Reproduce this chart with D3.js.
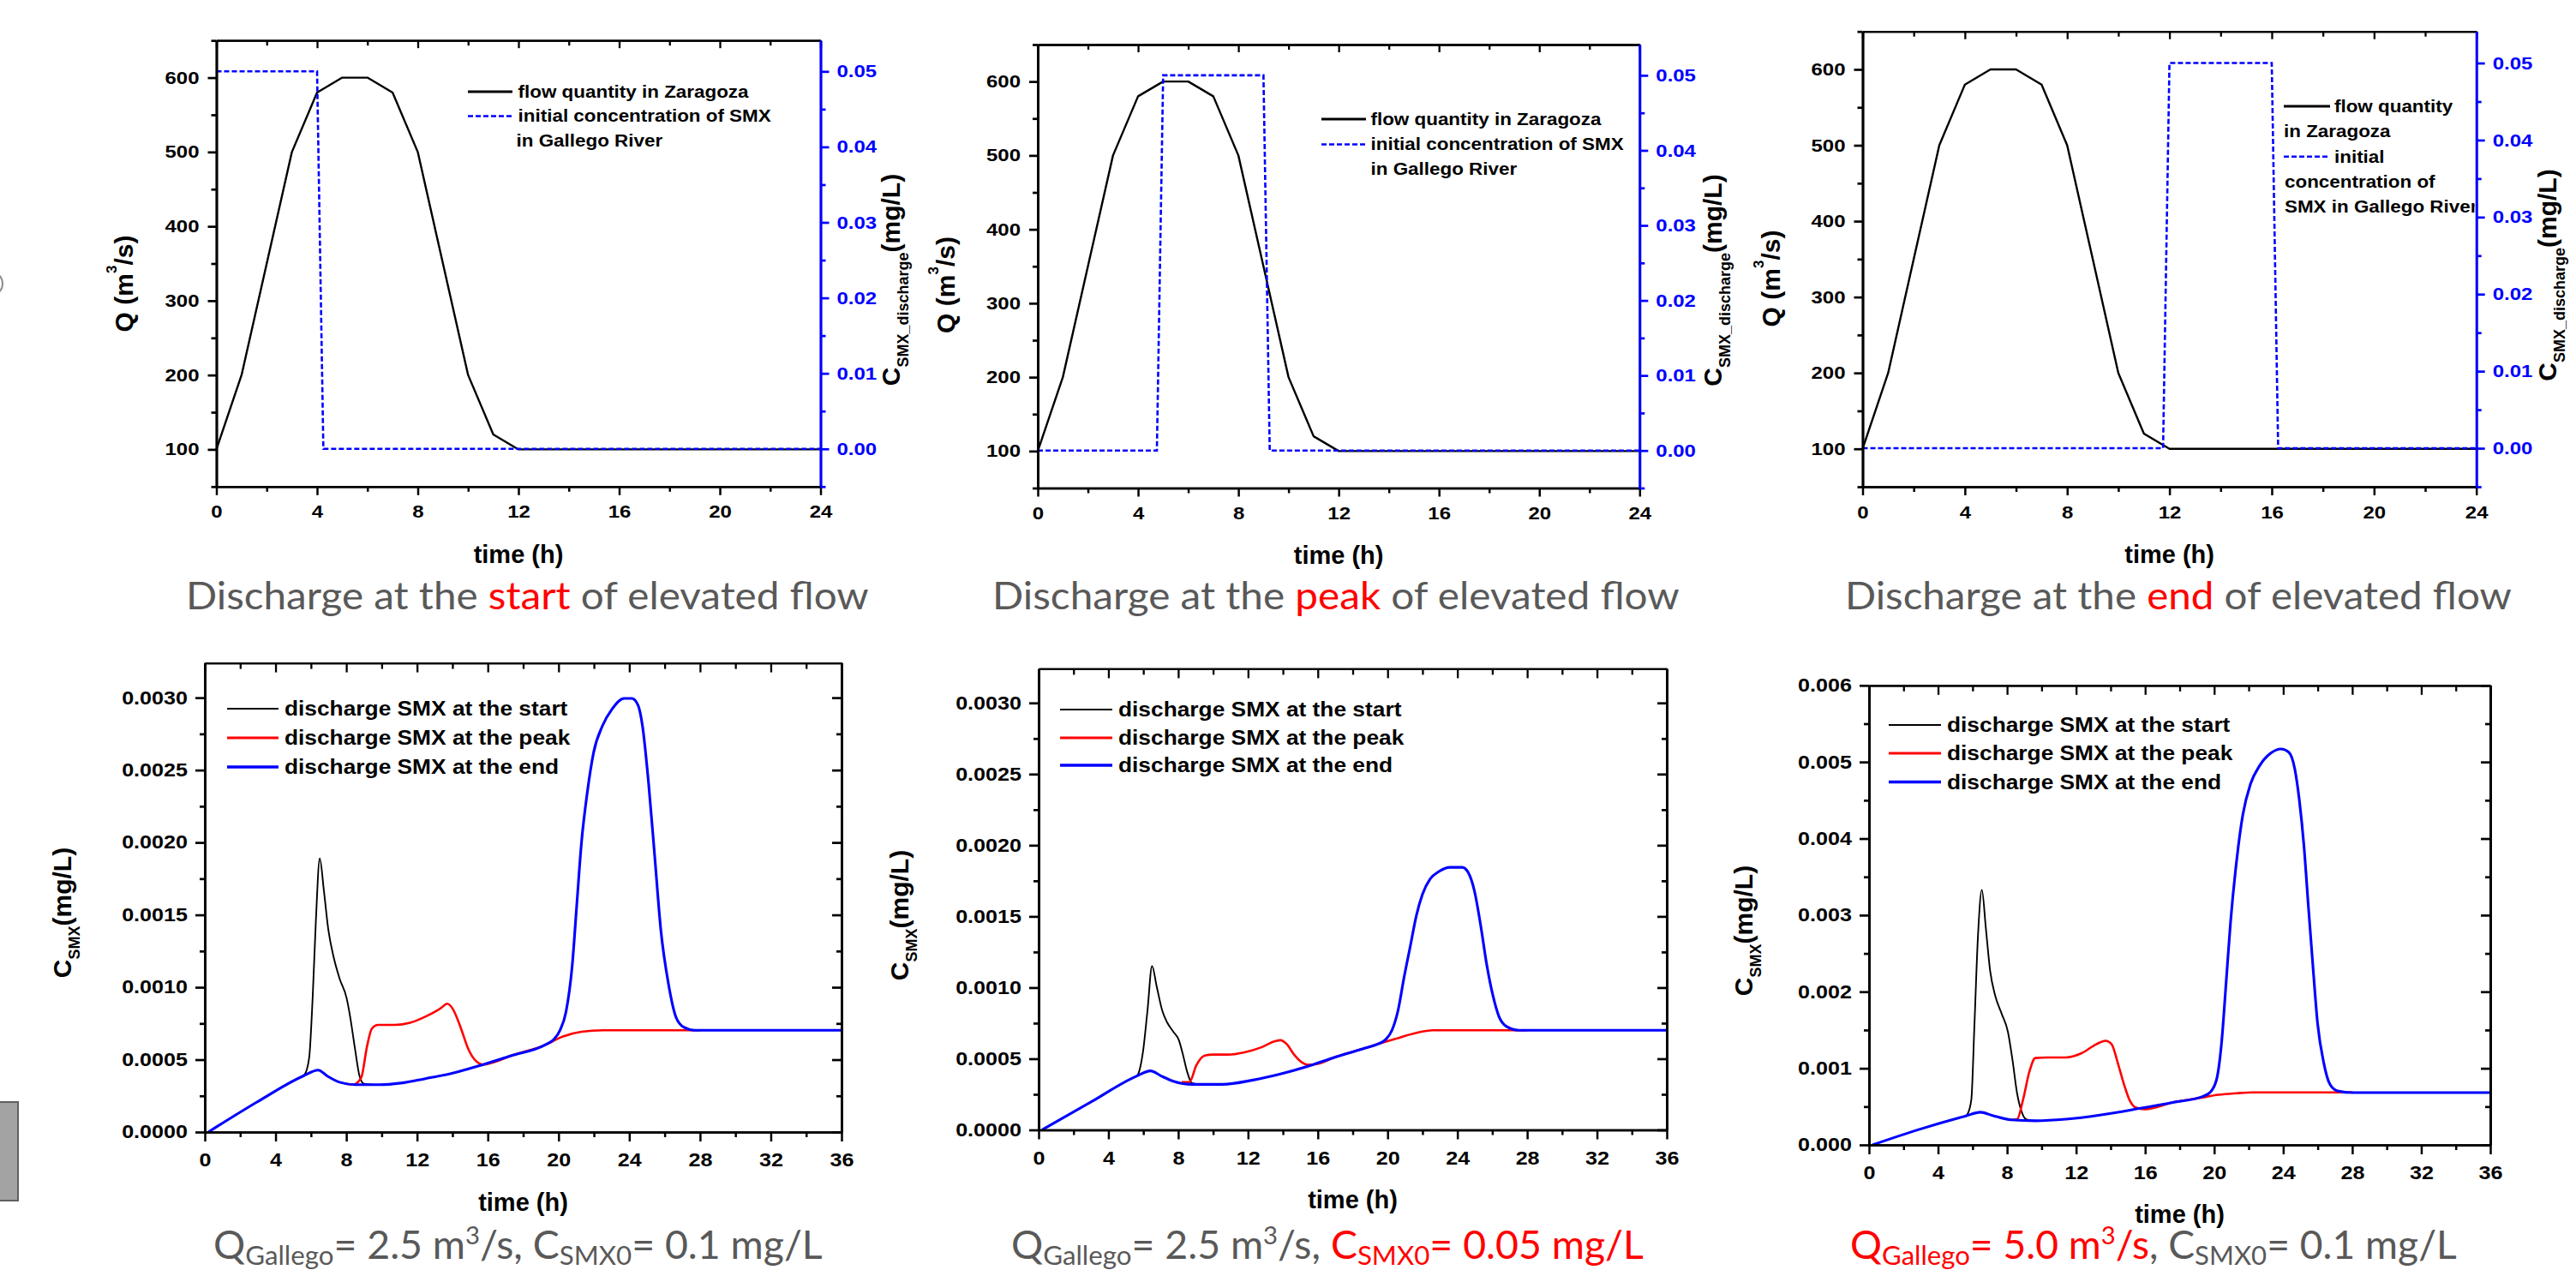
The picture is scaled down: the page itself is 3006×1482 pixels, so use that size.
<!DOCTYPE html>
<html>
<head>
<meta charset="utf-8">
<script src="https://cdn.jsdelivr.net/npm/d3@7"></script>
<style>
body{margin:0;background:#fff;}
svg{display:block;}
</style>
</head>
<body>
<svg id="chart" width="3006" height="1482"></svg>
<script>
// Data ---------- ---------- ----------
// top row: flow hydrograph in Zaragoza and SMX discharge windows
const flowHours = [0,1,2,3,4,5,6,7,8,9,10,11,12,24];
const flowQ     = [100,200,350,500,580,600,600,580,500,350,200,120,100,100];
const stepStart = [[0,0.05],[4,0.05],[4.25,0],[24,0]];
const stepPeak  = [[0,0],[4.75,0],[5,0.05],[9,0.05],[9.25,0],[24,0]];
const stepEnd   = [[0,0],[11.75,0],[12,0.05],[16,0.05],[16.25,0],[24,0]];

// bottom row: C_SMX (mg/L) vs time (h), [t, c]
const p4Start = [[5.55,0.00039],[5.64,0.000397],[5.9,0.000513],[6.1,0.000935],[6.28,0.00146],[6.5,0.00189],[6.73,0.00167],[6.98,0.0014],[7.28,0.00121],[7.62,0.00106],[8.02,0.000924],[8.23,0.000787],[8.49,0.000576],[8.75,0.000386],[9.0,0.000333],[9.5,0.000327]];
const p4Peak  = [[8.0,0.000333],[8.4,0.000328],[8.84,0.000375],[9.18,0.000597],[9.44,0.000713],[9.79,0.00074],[10.74,0.00074],[11.6,0.000755],[12.47,0.000797],[13.33,0.000854],[13.71,0.000886],[14.02,0.00085],[14.46,0.000724],[14.89,0.000576],[15.32,0.000492],[15.76,0.000466],[16.27,0.00048],[17.31,0.000527],[19.21,0.0006],[20.25,0.00066],[21.29,0.000692],[22.5,0.000703],[28,0.000703]];
const p4End   = [[0.2,0],[2.95,0.000207],[5.55,0.000386],[6.41,0.000428],[6.93,0.000386],[7.62,0.000344],[8.49,0.000327],[9.87,0.000327],[11.08,0.000338],[12.47,0.000369],[14.02,0.000407],[15.58,0.00046],[17.31,0.000527],[19.21,0.0006],[19.73,0.000639],[20.08,0.000702],[20.42,0.000829],[20.77,0.001146],[21.03,0.001568],[21.29,0.00199],[21.63,0.00235],[21.98,0.00262],[22.5,0.00281],[23.02,0.00292],[23.71,0.002995],[24.14,0.002995],[24.49,0.00295],[24.74,0.00281],[25.09,0.00241],[25.44,0.0019],[25.78,0.0014],[26.22,0.00102],[26.65,0.00079],[27.08,0.000724],[27.69,0.000703],[36,0.000703]];

const p5Start = [[5.63,0.000379],[5.71,0.000393],[5.97,0.000539],[6.24,0.00084],[6.5,0.001152],[6.76,0.001012],[7.08,0.00084],[7.37,0.000754],[7.72,0.00069],[8.04,0.00063],[8.25,0.000539],[8.51,0.00041],[8.78,0.000329],[9.2,0.00032]];
const p5Peak  = [[8.2,0.000335],[8.64,0.000336],[9.04,0.000454],[9.52,0.000522],[10.0,0.000529],[10.88,0.000529],[11.75,0.000544],[12.8,0.000582],[13.51,0.000621],[13.86,0.00063],[14.21,0.000604],[14.64,0.000529],[15.08,0.000475],[15.43,0.000458],[15.97,0.000464],[17.01,0.000512],[18.76,0.000576],[19.29,0.000597],[20.51,0.000642],[21.56,0.000679],[22.6,0.0007],[28,0.0007]];
const p5End   = [[0.2,0],[3.0,0.000196],[5.63,0.000379],[6.41,0.000415],[7.02,0.000379],[7.72,0.000342],[8.78,0.00032],[10.53,0.00032],[12.28,0.00035],[13.86,0.000393],[15.43,0.000447],[17.01,0.000512],[18.76,0.000576],[19.46,0.000604],[19.9,0.000636],[20.25,0.0007],[20.6,0.00084],[20.95,0.001076],[21.3,0.00129],[21.65,0.001506],[22.0,0.001656],[22.44,0.001763],[22.96,0.001817],[23.58,0.001845],[24.28,0.001845],[24.63,0.001806],[24.98,0.001677],[25.33,0.001441],[25.68,0.001162],[26.03,0.000947],[26.38,0.000797],[26.82,0.000726],[27.52,0.0007],[36,0.0007]];

const p6Start = [[5.57,0.000375],[5.71,0.000403],[5.93,0.000594],[6.1,0.001514],[6.31,0.002712],[6.54,0.00333],[6.77,0.00283],[7.02,0.00227],[7.31,0.00195],[7.69,0.00171],[8.05,0.001474],[8.31,0.001114],[8.58,0.000674],[8.84,0.000435],[9.1,0.000335],[9.64,0.000315]];
const p6Peak  = [[8.2,0.000327],[8.58,0.000335],[8.93,0.000594],[9.29,0.000954],[9.64,0.001134],[10.35,0.001142],[11.41,0.001142],[12.29,0.001194],[13.17,0.001314],[13.7,0.00136],[14.06,0.001314],[14.41,0.001074],[14.77,0.000794],[15.12,0.000574],[15.47,0.000486],[16.0,0.000466],[17.6,0.000554],[19.19,0.000614],[20.25,0.000654],[21.3,0.000674],[22.19,0.000686],[28.03,0.000686]];
const p6End   = [[0.2,0],[2.92,0.000203],[5.57,0.000375],[6.46,0.000427],[7.16,0.000383],[8.23,0.000327],[9.64,0.000315],[11.4,0.000335],[13.53,0.000395],[15.65,0.000475],[17.6,0.000554],[19.36,0.000634],[19.8,0.000694],[20.16,0.000874],[20.42,0.001314],[20.69,0.002113],[20.95,0.002912],[21.3,0.00371],[21.66,0.00431],[22.1,0.00471],[22.63,0.00495],[23.25,0.00511],[23.87,0.00517],[24.31,0.00513],[24.67,0.00491],[24.93,0.00451],[25.2,0.00391],[25.46,0.00311],[25.73,0.00231],[25.99,0.00159],[26.35,0.00107],[26.7,0.000794],[27.14,0.000706],[28.03,0.000682],[36,0.000682]];

// ticks
const hourMajor24 = [0,4,8,12,16,20,24], hourMinor24 = [2,6,10,14,18,22];
const hourMajor36 = [0,4,8,12,16,20,24,28,32,36], hourMinor36 = [2,6,10,14,18,22,26,30,34];
const qMajor = [100,200,300,400,500,600], qMinor = [50,150,250,350,450,550,650];
const c0Major = [0,0.01,0.02,0.03,0.04,0.05], c0Minor = [-0.005,0.005,0.015,0.025,0.035,0.045];
const cMajorA = [0,0.0005,0.001,0.0015,0.002,0.0025,0.003], cMinorA = [0.00025,0.00075,0.00125,0.00175,0.00225,0.00275];
const cMajorB = [0,0.001,0.002,0.003,0.004,0.005,0.006], cMinorB = [0.0005,0.0015,0.0025,0.0035,0.0045,0.0055];

// text
const seriesNames = ["discharge SMX at the start","discharge SMX at the peak","discharge SMX at the end"];
const topWords = ["start","peak","end"];

// Layout ---------- ---------- ----------
const FONT = "'Liberation Sans', Arial, sans-serif";
const GREY = "#595959", RED = "#ff0000", BLUE = "#0000ff";
const svg = d3.select("#chart");

const topPanels = [
  {x0:252.5, x1:957.5, y0:47.2, y1:567.8, step:stepStart, qx:155, qy:331, cx:1049.5, cy:326.5, timeY:646.5,
   sub:{x:217, w:797, y:710.7},
   legend:{l0:546, l1:598, rows:[{y:107,k:"solid",x:604.6,t:"flow quantity in Zaragoza"},{y:135.5,k:"dash",x:604.6,t:"initial concentration of SMX"},{y:164.5,x:602.5,t:"in Gallego River"}]}},
  {x0:1211, x1:1913.3, y0:52, y1:569.5, step:stepPeak, qx:1114, qy:332.5, cx:2009, cy:327, timeY:647.4,
   sub:{x:1158, w:802, y:710.7},
   legend:{l0:1542, l1:1594, rows:[{y:139,k:"solid",x:1599.5,t:"flow quantity in Zaragoza"},{y:168.5,k:"dash",x:1599.5,t:"initial concentration of SMX"},{y:197.4,x:1599.5,t:"in Gallego River"}]}},
  {x0:2173.5, x1:2889.7, y0:36.7, y1:568, step:stepEnd, qx:2076.5, qy:325, cx:2983, cy:321, timeY:647,
   sub:{x:2153, w:778, y:710.7},
   legend:{l0:2665, l1:2719, rows:[{y:124,k:"solid",x:2724,t:"flow quantity"},{y:153,x:2665,t:"in Zaragoza"},{y:182.7,k:"dash",x:2724,t:"initial"},{y:212,x:2666,t:"concentration of"},{y:241,x:2666,t:"SMX in Gallego River"}]}}
];

const bottomPanels = [
  {x0:239, x1:982, y0:773.6, y1:1321, yMax:0.00324, major:cMajorA, minor:cMinorA, fmt:".4f", series:[p4Start,p4Peak,p4End],
   tx:82.5, ty:1065, timeY:1402.6, lg:{l0:265, l1:325, x:332, ys:[827,861,895]},
   sub:{x:249, w:711, y:1469, q:GREY, c:GREY, qv:"2.5", cv:"0.1"}},
  {x0:1212, x1:1945, y0:780.4, y1:1318.5, yMax:0.00324, major:cMajorA, minor:cMinorA, fmt:".4f", series:[p5Start,p5Peak,p5End],
   tx:1059.5, ty:1068, timeY:1400, lg:{l0:1237, l1:1298, x:1305, ys:[828,861,893]},
   sub:{x:1180, w:738, y:1469, q:GREY, c:RED, qv:"2.5", cv:"0.05"}},
  {x0:2181, x1:2906, y0:799.8, y1:1336, yMax:0.006, major:cMajorB, minor:cMinorB, fmt:".3f", series:[p6Start,p6Peak,p6End],
   tx:2045, ty:1086, timeY:1416.8, lg:{l0:2204, l1:2265, x:2272, ys:[846,879,912.5]},
   sub:{x:2159, w:708, y:1469, q:RED, c:GREY, qv:"5.0", cv:"0.1"}}
];
const seriesColor = ["#000000", RED, BLUE];
const seriesWidth = [1.9, 2.6, 3.1];

// Helpers ---------- ---------- ----------
// the source graphs were pasted slightly stretched sideways, so widen small text
function widen(sel, sx){
  sel.each(function(){
    const t = d3.select(this);
    const x = +t.attr("x") || 0;
    t.attr("x", x/sx).attr("transform", "scale(" + sx + ",1)");
  });
}

function addAxis(g, gen, tx, ty, color, width, size, sx){
  const a = g.append("g").attr("transform", "translate(" + tx + "," + ty + ")").call(gen);
  a.select(".domain").attr("stroke", color).attr("stroke-width", width);
  a.selectAll(".tick line").attr("stroke", color).attr("stroke-width", width);
  a.selectAll(".tick text").attr("fill", color)
    .style("font-family", FONT).style("font-weight", "bold").style("font-size", size + "px");
  if (sx) widen(a.selectAll(".tick text"), sx);
  return a;
}

function rotTitle(x, y, parts){
  const t = svg.append("text").attr("transform", "translate(" + x + "," + y + ") rotate(-90)")
    .attr("text-anchor", "middle").attr("dy", "0.36em")
    .style("font-family", FONT).style("font-weight", "bold").style("font-size", "30px");
  parts.forEach(p => t.append("tspan").attr("dy", p.dy || 0).style("font-size", (p.s || 30) + "px").text(p.t));
  return t;
}

function subtitle(cfg, parts, size){
  const t = svg.append("text").attr("transform", "translate(" + cfg.x + "," + cfg.y + ")")
    .style("font-family", "Lato, 'Open Sans', sans-serif").style("font-size", size + "px");
  parts.forEach(p => t.append("tspan").attr("fill", p.c).attr("dy", p.dy || 0)
    .style("font-size", (p.s || size) + "px").text(p.t));
  const bw = t.node().getBBox().width;
  t.attr("transform", "translate(" + cfg.x + "," + cfg.y + ") scale(" + (cfg.w / bw) + ",1)");
}

function legendLabel(g, x, y, str, size, sx){
  g.append("text").attr("x", x / sx).attr("y", y).attr("dy", "0.35em")
    .attr("transform", "scale(" + sx + ",1)")
    .style("font-family", FONT).style("font-weight", "bold").style("font-size", size + "px")
    .text(str);
}

// Decorations from the slide ---------- ---------- ----------
svg.append("circle").attr("cx", -11).attr("cy", 331).attr("r", 14)
  .attr("fill", "none").attr("stroke", "#8c8c8c").attr("stroke-width", 2);
svg.append("rect").attr("x", -2).attr("y", 1286).attr("width", 23).attr("height", 115)
  .attr("fill", "#a3a3a3").attr("stroke", "#5f5f5f").attr("stroke-width", 2);

// Top row ---------- ---------- ----------
topPanels.forEach((p, i) => {
  const g = svg.append("g");
  const x = d3.scaleLinear().domain([0, 24]).range([p.x0, p.x1]);
  const yQ = d3.scaleLinear().domain([50, 650]).range([p.y1, p.y0]);
  const yC = d3.scaleLinear().domain([-0.005, 0.0541]).range([p.y1, p.y0]);

  g.append("path").datum(d3.zip(flowHours, flowQ))
    .attr("fill", "none").attr("stroke", "#000").attr("stroke-width", 2.4).attr("stroke-linejoin", "round")
    .attr("d", d3.line().x(d => x(d[0])).y(d => yQ(d[1])));
  g.append("path").datum(p.step)
    .attr("fill", "none").attr("stroke", BLUE).attr("stroke-width", 2.6).attr("stroke-dasharray", "6,3")
    .attr("d", d3.line().x(d => x(d[0])).y(d => yC(d[1])));

  // axes: bottom + top mirror, left Q, right blue C
  addAxis(g, d3.axisBottom(x).tickValues(hourMajor24).tickSize(10).tickPadding(12).tickSizeOuter(0), 0, p.y1, "#000", 2.5, 20.5, 1.17);
  addAxis(g, d3.axisBottom(x).tickValues(hourMinor24).tickSize(6).tickFormat("").tickSizeOuter(0), 0, p.y1, "#000", 2.5, 20);
  addAxis(g, d3.axisBottom(x).tickValues(hourMajor24).tickSize(9).tickFormat("").tickSizeOuter(0), 0, p.y0, "#000", 2.3, 20);
  addAxis(g, d3.axisBottom(x).tickValues(hourMinor24).tickSize(6).tickFormat("").tickSizeOuter(0), 0, p.y0, "#000", 2.3, 20);
  addAxis(g, d3.axisLeft(yQ).tickValues(qMajor).tickSize(10).tickPadding(10).tickSizeOuter(0), p.x0, 0, "#000", 2.7, 20.5, 1.17);
  addAxis(g, d3.axisLeft(yQ).tickValues(qMinor).tickSize(6).tickFormat("").tickSizeOuter(0), p.x0, 0, "#000", 2.7, 20);
  addAxis(g, d3.axisRight(yC).tickValues(c0Major).tickSize(10).tickPadding(9).tickFormat(d3.format(".2f")).tickSizeOuter(0), p.x1, 0, BLUE, 2.7, 20.5, 1.17);
  addAxis(g, d3.axisRight(yC).tickValues(c0Minor).tickSize(6).tickFormat("").tickSizeOuter(0), p.x1, 0, BLUE, 2.7, 20);

  // legend (clipped to the frame like the original)
  const clipId = "clipTop" + i;
  svg.append("clipPath").attr("id", clipId).append("rect")
    .attr("x", p.x0).attr("y", p.y0).attr("width", p.x1 - p.x0 - 2).attr("height", p.y1 - p.y0);
  const lg = g.append("g").attr("clip-path", "url(#" + clipId + ")");
  p.legend.rows.forEach(r => {
    if (r.k) lg.append("line").attr("x1", p.legend.l0).attr("x2", p.legend.l1).attr("y1", r.y).attr("y2", r.y)
      .attr("stroke", r.k === "dash" ? BLUE : "#000").attr("stroke-width", r.k === "dash" ? 2.6 : 2.8)
      .attr("stroke-dasharray", r.k === "dash" ? "6,3" : null);
    legendLabel(lg, r.x, r.y, r.t, 19.5, 1.15);
  });

  // titles
  rotTitle(p.qx, p.qy, [{t:"Q (m"}, {t:"3", s:17, dy:-19}, {t:"/s)", dy:19}]);
  rotTitle(p.cx, p.cy, [{t:"C"}, {t:"SMX_discharge", s:18, dy:10}, {t:"(mg/L)", dy:-10}]);
  svg.append("text").attr("x", (p.x0 + p.x1) / 2).attr("y", p.timeY).attr("dy", "0.36em")
    .attr("text-anchor", "middle").style("font-family", FONT).style("font-weight", "bold").style("font-size", "29px")
    .text("time (h)");
  subtitle(p.sub, [{t:"Discharge at the ", c:GREY}, {t:topWords[i], c:RED}, {t:" of elevated flow", c:GREY}], 44.5);
});

// Bottom row ---------- ---------- ----------
bottomPanels.forEach((p, i) => {
  const g = svg.append("g");
  const x = d3.scaleLinear().domain([0, 36]).range([p.x0, p.x1]);
  const y = d3.scaleLinear().domain([0, p.yMax]).range([p.y1, p.y0]);
  const line = d3.line().curve(d3.curveMonotoneX).x(d => x(d[0])).y(d => y(d[1]));

  p.series.forEach((s, k) => {
    g.append("path").datum(s).attr("fill", "none").attr("stroke", seriesColor[k])
      .attr("stroke-width", seriesWidth[k]).attr("stroke-linejoin", "round").attr("d", line);
  });

  addAxis(g, d3.axisBottom(x).tickValues(hourMajor36).tickSize(11).tickPadding(14).tickSizeOuter(0), 0, p.y1, "#000", 2.5, 21.5, 1.17);
  addAxis(g, d3.axisBottom(x).tickValues(hourMinor36).tickSize(6).tickFormat("").tickSizeOuter(0), 0, p.y1, "#000", 2.5, 21);
  addAxis(g, d3.axisBottom(x).tickValues(hourMajor36).tickSize(11).tickFormat("").tickSizeOuter(0), 0, p.y0, "#000", 2.3, 21);
  addAxis(g, d3.axisBottom(x).tickValues(hourMinor36).tickSize(7).tickFormat("").tickSizeOuter(0), 0, p.y0, "#000", 2.3, 21);
  addAxis(g, d3.axisLeft(y).tickValues(p.major).tickSize(11).tickPadding(9).tickFormat(d3.format(p.fmt)).tickSizeOuter(0), p.x0, 0, "#000", 2.7, 21.5, 1.17);
  addAxis(g, d3.axisLeft(y).tickValues(p.minor).tickSize(6).tickFormat("").tickSizeOuter(0), p.x0, 0, "#000", 2.7, 21);
  addAxis(g, d3.axisLeft(y).tickValues(p.major).tickSize(11).tickFormat("").tickSizeOuter(0), p.x1, 0, "#000", 2.7, 21);
  addAxis(g, d3.axisLeft(y).tickValues(p.minor).tickSize(6).tickFormat("").tickSizeOuter(0), p.x1, 0, "#000", 2.7, 21);

  seriesNames.forEach((name, k) => {
    g.append("line").attr("x1", p.lg.l0).attr("x2", p.lg.l1).attr("y1", p.lg.ys[k]).attr("y2", p.lg.ys[k])
      .attr("stroke", seriesColor[k]).attr("stroke-width", seriesWidth[k] + 0.3);
    legendLabel(g, p.lg.x, p.lg.ys[k], name, 23.5, 1.12);
  });

  rotTitle(p.tx, p.ty, [{t:"C"}, {t:"SMX", s:18, dy:10}, {t:"(mg/L)", dy:-10}]);
  svg.append("text").attr("x", (p.x0 + p.x1) / 2).attr("y", p.timeY).attr("dy", "0.36em")
    .attr("text-anchor", "middle").style("font-family", FONT).style("font-weight", "bold").style("font-size", "29px")
    .text("time (h)");

  const s = p.sub;
  subtitle(s, [
    {t:"Q", c:s.q}, {t:"Gallego", c:s.q, s:31, dy:7}, {t:"= " + s.qv + " m", c:s.q, dy:-7},
    {t:"3", c:s.q, s:29, dy:-17}, {t:"/s", c:s.q, dy:17}, {t:", ", c:GREY},
    {t:"C", c:s.c}, {t:"SMX0", c:s.c, s:31, dy:7}, {t:"= " + s.cv + " mg/L", c:s.c, dy:-7}
  ], 46);
});
</script>
</body>
</html>
